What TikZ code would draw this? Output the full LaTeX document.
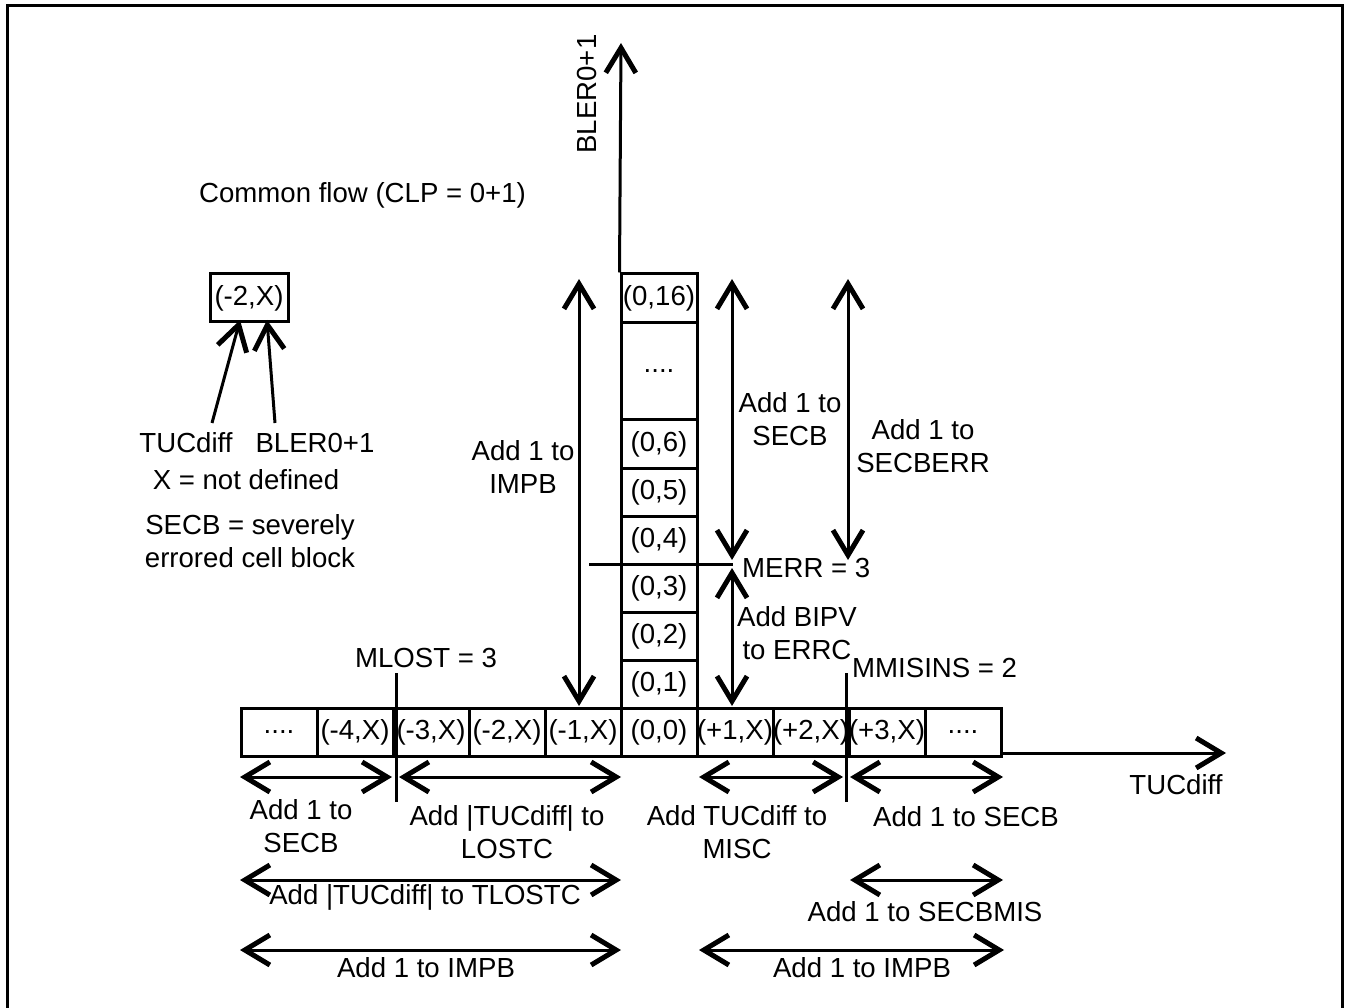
\documentclass[tikz,border=0pt]{standalone}
\usepackage{fontspec}
\setmainfont{Liberation Sans}
\usetikzlibrary{arrows.meta}
\begin{document}
\begin{tikzpicture}[x=1pt,y=-1pt,
  every node/.style={font=\fontsize{27.6}{33}\selectfont, inner sep=0pt},
  cell/.style={draw, line width=3pt, minimum width=76pt, minimum height=48pt},
  ln/.style={line width=3pt},
  tipb/.tip={Straight Barb[length=25pt,width=30pt,line width=2pt 1]},
  dbl/.style={line width=3pt, tipb-tipb},
  sgl/.style={line width=3pt, -tipb},
  lbl/.style={align=center}]
\useasboundingbox (0,0) rectangle (1345,1008);
% frame
\draw[ln] (7,1012) -- (7,6) -- (1342,6) -- (1342,1012);

% bottom row
\node[cell] (m5) at (279,732) {....};
\node[cell] (m4) at (355,732) {(-4,X)};
\node[cell] (m3) at (431,732) {(-3,X)};
\node[cell] (m2) at (507,732) {(-2,X)};
\node[cell] (m1) at (583,732) {(-1,X)};
\node[cell] (z0) at (659,732) {(0,0)};
\node[cell] (p1) at (735,732) {(+1,X)};
\node[cell] (p2) at (811,732) {(+2,X)};
\node[cell] (p3) at (887,732) {(+3,X)};
\node[cell] (p5) at (963,732) {....};
% column
\node[cell] (c1) at (659,684) {(0,1)};
\node[cell] (c2) at (659,636) {(0,2)};
\node[cell] (c3) at (659,588) {(0,3)};
\node[cell] (c4) at (659,540) {(0,4)};
\node[cell] (c5) at (659,492) {(0,5)};
\node[cell] (c6) at (659,444) {(0,6)};
\node[cell, minimum height=97pt] (cd) at (659,371.5) {....};
\node[cell, minimum height=49pt] (c16) at (659,298.5) {(0,16)};

% axes
\coordinate (ytip) at (621,43);
\draw[sgl] (c16.north west) -- (ytip);
\node[rotate=90] (ylab) at (587,94) {BLER0+1};
\coordinate (xtip) at (1226,753);
\draw[sgl] (p5.south east |- xtip) -- (xtip);
\node (xlab) at (1176,785) {TUCdiff};

% title
\node[anchor=west] (title) at (199,195) {Common flow (CLP = 0+1)};

% legend box
\node[cell, minimum width=78pt] (box) at (249,298) {(-2,X)};
\node (ltuc) at (186,443) {TUCdiff};
\node (lbler) at (315,443) {BLER0+1};
\coordinate (a1s) at (212,423);
\coordinate (a1e) at (240,320);
\coordinate (a2s) at (275,423);
\coordinate (a2e) at (267,320);
\draw[sgl] (a1s) -- (a1e);
\draw[sgl] (a2s) -- (a2e);
\node (xdef) at (246,480) {X = not defined};
\node[lbl] (secbdef) at (250,541) {SECB = severely\\errored cell block};

% vertical double arrows
\coordinate (impbT) at (579,279);
\coordinate (impbB) at (579,706);
\draw[dbl] (impbT) -- (impbB);
\node[lbl] (impbl) at (523,467) {Add 1 to\\IMPB};

\coordinate (secbT) at (732,279);
\coordinate (secbB) at (732,560);
\draw[dbl] (secbT) -- (secbB);
\node[lbl] (secbl) at (790,419) {Add 1 to\\SECB};

\coordinate (secbeT) at (848,279);
\coordinate (secbeB) at (848,560);
\draw[dbl] (secbeT) -- (secbeB);
\node[lbl] (secbel) at (923,446) {Add 1 to\\SECBERR};

\coordinate (errT) at (732,568);
\coordinate (errB) at (732,706);
\draw[dbl] (errT) -- (errB);
\node[lbl] (errl) at (797,633) {Add BIPV\\to ERRC};

% MERR line
\coordinate (merrL) at (589,564);
\coordinate (merrR) at (733,564);
\draw[ln] (merrL) -- (merrR);
\node[anchor=west] (merrlab) at (742,568) {MERR = 3};

% MLOST and MMISINS lines
\coordinate (mlT) at (396,673);
\coordinate (mlB) at (396,802);
\draw[ln] (mlT) -- (mlB);
\node (mllab) at (426,658) {MLOST = 3};
\coordinate (mmT) at (846,673);
\coordinate (mmB) at (846,802);
\draw[ln] (mmT) -- (mmB);
\node[anchor=west] (mmlab) at (852,668) {MMISINS = 2};

% bottom arrows row 1
\coordinate (r1a) at (240,777);
\coordinate (r1b) at (392,777);
\coordinate (r1c) at (399,777);
\coordinate (r1d) at (621,777);
\coordinate (r1e) at (699,777);
\coordinate (r1f) at (843,777);
\coordinate (r1g) at (850,777);
\coordinate (r1h) at (1003,777);
\draw[dbl] (r1a) -- (r1b);
\draw[dbl] (r1c) -- (r1d);
\draw[dbl] (r1e) -- (r1f);
\draw[dbl] (r1g) -- (r1h);
\node[lbl] (l1a) at (301,826) {Add 1 to\\SECB};
\node[lbl] (l1b) at (507,832) {Add |TUCdiff| to\\LOSTC};
\node[lbl] (l1c) at (737,832) {Add TUCdiff to\\MISC};
\node (l1d) at (966,817) {Add 1 to SECB};
% row 2
\coordinate (r2a) at (240,880);
\coordinate (r2b) at (621,880);
\coordinate (r2c) at (850,880);
\coordinate (r2d) at (1003,880);
\draw[dbl] (r2a) -- (r2b);
\draw[dbl] (r2c) -- (r2d);
\node (l2a) at (425,897) {Add |TUCdiff| to TLOSTC};
\node (l2b) at (925,912) {Add 1 to SECBMIS};
% row 3
\coordinate (r3a) at (240,950);
\coordinate (r3b) at (621,950);
\coordinate (r3c) at (699,950);
\coordinate (r3d) at (1004,950);
\draw[dbl] (r3a) -- (r3b);
\draw[dbl] (r3c) -- (r3d);
\node (l3a) at (426,968) {Add 1 to IMPB};
\node (l3b) at (862,968) {Add 1 to IMPB};
\end{tikzpicture}
\end{document}
